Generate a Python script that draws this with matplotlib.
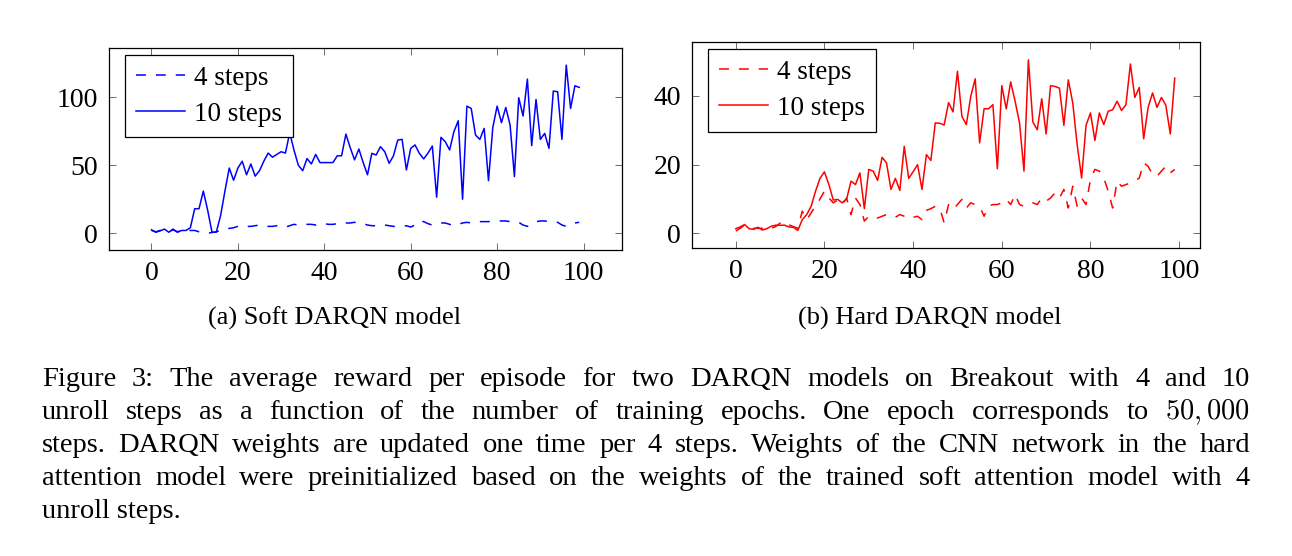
import numpy as np
import matplotlib
matplotlib.use("Agg")
import matplotlib.pyplot as plt

plt.rcParams['font.family'] = ['Liberation Serif', 'DejaVu Serif']
plt.rcParams['mathtext.fontset'] = 'cm'

epochs = np.arange(100)

# soft attention model (left panel)
soft_4 = [2, 1, 2, 1.5, 1, 2.5, 1, 2, 1.5, 2,
          2, 1, 0.5, 0, 0.5, 1, 2, 3, 3.5, 4,
          5, 5.5, 5, 5, 5.5, 6, 5.5, 5, 5, 5.5,
          4.5, 4.5, 5.5, 6.5, 6, 6, 6.5, 6.5, 6, 6.5,
          7, 6.5, 6.5, 7, 7, 7.5, 7.5, 8, 7.5, 7,
          6, 5.5, 5.5, 6, 6, 5.5, 5, 5, 5, 5.5,
          4.5, 6, 9, 8.5, 7, 6, 7, 7.5, 7.5, 6.5,
          5.5, 6.5, 7.5, 8, 7.5, 8, 8.5, 8.5, 8.5, 9,
          9, 9, 9, 8.5, 8, 8, 6, 5, 6.5, 8.5,
          9, 9, 8.5, 8, 8, 6, 5, 6, 7.5, 8]
soft_10 = [2.5, 0.7, 1.7, 3, 0.7, 3, 0.7, 2, 2, 4,
           18, 18, 31, 17, 0.7, 0.7, 13, 31, 48, 39,
           48, 53, 43, 51, 42, 46, 53, 59, 56, 58,
           60, 59, 74, 61, 50, 46, 55, 51, 58, 52,
           52, 52, 52, 57, 57, 73, 63, 54, 62, 52,
           43, 58.8, 57.6, 63.7, 60, 51.5, 56.9, 68.6, 69.1, 46.6,
           62.5, 65, 58.8, 54.7, 59, 64.2, 26.5, 70.6, 67.4, 61.3,
           74.8, 82.8, 25, 93.6, 91.9, 72.3, 69.1, 77.2, 38.7, 77.9,
           93.6, 81.4, 92.6, 79.7, 41.7, 99.8, 86.3, 113.5, 64.5, 98.5,
           69.1, 73.5, 62.5, 104.7, 104.2, 69.1, 123.8, 91.9, 108.6, 107.4]

# hard attention model (right panel)
hard_4 = [0.7, 1.5, 2.5, 2, 1.5, 1.5, 1.5, 1, 1.5, 2,
          3, 3.5, 2.5, 2, 1.5, 6.5, 4, 6, 8, 10,
          12.3, 10.3, 8.9, 9.7, 8.4, 10.3, 5.5, 10.3, 8.4, 3.6,
          5, 4.7, 4.5, 5, 5.5, 5.2, 4.7, 5.5, 5, 4.3,
          4.7, 5, 4, 6.7, 7.2, 7.9, 7.4, 3.1, 8.4, 7,
          8.4, 9.9, 7.4, 8.9, 8.4, 7.9, 5, 7.9, 8.4, 8.4,
          8.9, 9.9, 8.4, 11.3, 8.4, 7.9, 8.4, 8.9, 8.4, 10.3,
          9.4, 10.3, 11.8, 10.3, 12.8, 7.4, 13.7, 7.9, 10.3, 8.4,
          15.7, 18.6, 18.1, 16.1, 12.3, 7.4, 15.2, 13.7, 14.2, 14.7,
          15.2, 16.1, 20.5, 19.5, 17.1, 16.6, 18.1, 19.5, 17.6, 18.6]
hard_10 = [1.4, 1.9, 2.6, 1.4, 1.2, 1.8, 1, 1.4, 2.1, 2.4,
           2.4, 2.4, 1.9, 1.8, 0.9, 4, 5.5, 7.9, 12.3, 16,
           17.9, 14.2, 9.7, 9.9, 8.9, 10, 15.2, 14.2, 17.6, 7.2,
           18.6, 18.1, 15.4, 22.1, 20.5, 12.8, 16, 12.5, 25.3, 16,
           17.9, 20, 12.8, 22.9, 21.2, 32.1, 32, 31.5, 38, 35.3,
           47.1, 34, 31.6, 39.8, 44.9, 26.3, 36.2, 36.2, 37.4, 18.8,
           42.9, 36.2, 44, 38.4, 32.1, 18.1, 50.4, 32.4, 30.1, 39.1,
           28.9, 42.9, 42.7, 42.2, 31.4, 44.6, 37.9, 25.8, 16.1, 31.4,
           35, 27, 35, 31.6, 35.5, 35.9, 38.4, 35.7, 37.4, 49.2,
           39.5, 42.4, 27.5, 36.6, 40.8, 36.6, 39.5, 37.2, 28.9, 45.1]

xticks = [0, 20, 40, 60, 80, 100]
soft_yticks = [0, 50, 100]
hard_yticks = [0, 20, 40]

W, H = 1292, 556
fig = plt.figure(figsize=(W / 100, H / 100), dpi=100)

ax1 = fig.add_axes([108.7 / W, 1 - 250 / H, 513.3 / W, 201.7 / H])
ax2 = fig.add_axes([692.3 / W, 1 - 248.3 / H, 507.7 / W, 206 / H])

dash = (0, (6.5, 6.5))


def style(ax, yt, xlim, ylim):
    ax.set_xlim(*xlim)
    ax.set_ylim(*ylim)
    ax.set_xticks(xticks)
    ax.set_yticks(yt)
    ax.tick_params(direction='in', length=5, width=0.6, color='#555555',
                   top=True, right=True, labelsize=20, pad=8)
    for s in ax.spines.values():
        s.set_linewidth(0.9)


ax1.plot(epochs, soft_4, color='#0000ff', lw=1.1, linestyle=dash, label='4 steps')
ax1.plot(epochs, soft_10, color='#0000ff', lw=1.1, label='10 steps')
style(ax1, soft_yticks, (-9.9, 108.9), (-12.4, 136.2))

ax2.plot(epochs, hard_4, color='#ff0000', lw=1.1, linestyle=dash, label='4 steps')
ax2.plot(epochs, hard_10, color='#ff0000', lw=1.1, label='10 steps')
style(ax2, hard_yticks, (-9.8, 104.7), (-4.3, 55.5))

for ax, anchor in ((ax1, (0.032, 0.967)), (ax2, (0.0315, 0.967))):
    leg = ax.legend(loc='upper left', bbox_to_anchor=anchor, borderaxespad=0,
                    fontsize=19.5, fancybox=False, framealpha=1, edgecolor='black',
                    handlelength=1.8, handletextpad=0.35, labelspacing=0.4,
                    borderpad=0.4)
    leg.get_frame().set_linewidth(0.9)

fig.text(335 / W, 1 - 318 / H, '(a) Soft DARQN model', ha='center', va='center', fontsize=19)
fig.text(930 / W, 1 - 318 / H, '(b) Hard DARQN model', ha='center', va='center', fontsize=19)

caption = [
    "Figure 3: The average reward per episode for two DARQN models on Breakout with 4 and 10",
    "unroll steps as a function of the number of training epochs.  One epoch corresponds to $50,000$",
    "steps. DARQN weights are updated one time per 4 steps. Weights of the CNN network in the hard",
    "attention model were preinitialized based on the weights of the trained soft attention model with 4",
    "unroll steps.",
]
renderer = fig.canvas.get_renderer()
x0, x1 = 42, 1250
for i, line in enumerate(caption):
    yb = 1 - (386 + 33 * i) / H
    words = line.split()
    if i == len(caption) - 1:
        fig.text(x0 / W, yb, line, fontsize=20.5, va='baseline')
        continue
    texts = [fig.text(0, yb, w, fontsize=20.5, va='baseline') for w in words]
    widths = [t.get_window_extent(renderer).width for t in texts]
    gap = (x1 - x0 - sum(widths)) / (len(words) - 1)
    x = x0
    for t, w in zip(texts, widths):
        t.set_x(x / W)
        x += w + gap

fig.savefig('out.png', dpi=100)
